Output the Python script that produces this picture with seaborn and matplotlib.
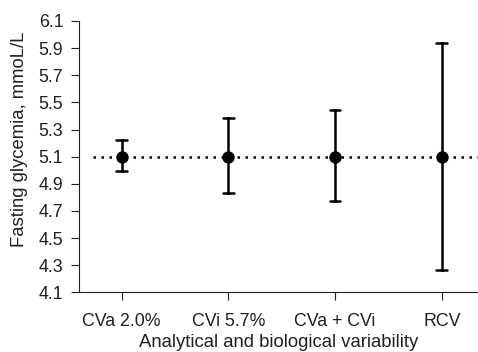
import matplotlib
matplotlib.use("Agg")
import matplotlib.pyplot as plt
import seaborn as sns
import pandas as pd

categories = ["CVa 2.0%", "CVi 5.7%", "CVa + CVi", "RCV"]
centers = [5.1, 5.1, 5.1, 5.1]
lows = [4.995, 4.83, 4.77, 4.265]
highs = [5.22, 5.385, 5.445, 5.935]
reference_value = 5.1
yticks = [4.1, 4.3, 4.5, 4.7, 4.9, 5.1, 5.3, 5.5, 5.7, 5.9, 6.1]

rows = []
for c, lo, m, hi in zip(categories, lows, centers, highs):
    for v in (lo, m, hi):
        rows.append({"cat": c, "val": v})
df = pd.DataFrame(rows)

sns.set_style("ticks")
plt.rcParams["font.family"] = ["Liberation Sans", "DejaVu Sans"]
text_col = "#231f20"

fig = plt.figure(figsize=(4.78, 3.52), dpi=100)
ax = fig.add_axes([79/478, (352-292.3)/352, (478-79)/478, (292.3-21)/352])

ax.axhline(reference_value, xmin=0.035, xmax=1, color="black", lw=1.8,
           linestyle=(0, (1, 2.2)), zorder=1)

sns.pointplot(data=df, x="cat", y="val", order=categories, estimator="median",
              errorbar=("pi", 100), color="black", linestyle="none",
              markers="o", markersize=6.9, capsize=0.1,
              err_kws={"linewidth": 1.8}, ax=ax, zorder=3)

ax.set_xlim(-0.4, 3.339)
ax.set_ylim(4.1, 6.1)
ax.set_yticks(yticks)
ax.set_yticklabels([f"{t:.1f}" for t in yticks])
ax.set_xticks(range(len(categories)))
ax.set_xticklabels(categories)

sns.despine(ax=ax)
for s in ("left", "bottom"):
    ax.spines[s].set_linewidth(0.8)
    ax.spines[s].set_color(text_col)

ax.tick_params(axis="y", left=True, labelsize=12.8, colors=text_col, width=0.8,
               length=5.8, pad=5.5)
ax.tick_params(axis="x", bottom=True, direction="out", labelsize=12.8,
               colors=text_col, width=0.8, length=6, pad=9)
ax.set_xlabel("Analytical and biological variability", fontsize=13.3,
              color=text_col, labelpad=3)
ax.set_ylabel("Fasting glycemia, mmoL/L", fontsize=13.3, color=text_col)
ax.yaxis.set_label_coords(-0.128, 0.565)

fig.savefig("out.png", dpi=100)
